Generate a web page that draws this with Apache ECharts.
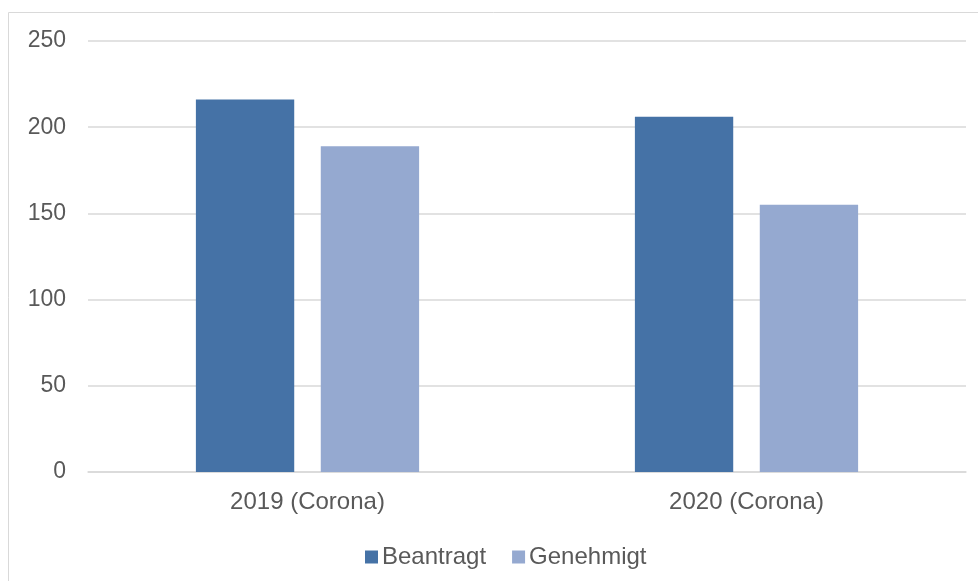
<!DOCTYPE html>
<html>
<head>
<meta charset="utf-8">
<script src="https://cdn.jsdelivr.net/npm/echarts@6/dist/echarts.min.js"></script>
<style>
  html, body { margin: 0; padding: 0; background: #fff; }
  #chart { width: 978px; height: 581px; }
</style>
</head>
<body>
<div id="chart"></div>
<script>
const categories = ["2019 (Corona)", "2020 (Corona)"];
const beantragt = [216, 206];
const genehmigt = [189, 155];
const yTicks = { min: 0, max: 250, interval: 50 };

const textColor = "#595959";
const font = "'Liberation Sans', Arial, sans-serif";

const myChart = echarts.init(document.getElementById("chart"));
const option = {
    animation: false,
    graphic: [{
        type: 'rect',
        shape: { x: 8.5, y: 12.5, width: 1000, height: 600 },
        style: { fill: null, stroke: '#d9d9d9', lineWidth: 1 },
        silent: true
    }],
    grid: {
        left: 88,
        right: 12,
        top: 41,
        bottom: 109
    },
    legend: {
        data: ['Beantragt', 'Genehmigt'],
        left: 360,
        top: 540,
        itemWidth: 13,
        itemHeight: 13,
        itemGap: 26,
        icon: 'rect',
        textStyle: {
            fontFamily: font,
            fontSize: 24,
            color: textColor,
            padding: [0, 0, 0, -1]
        }
    },
    xAxis: {
        type: 'category',
        data: categories,
        axisLine: { lineStyle: { color: '#d9d9d9', width: 1.5 } },
        axisTick: { show: false },
        axisLabel: {
            margin: 18,
            fontFamily: font,
            fontSize: 24,
            color: textColor
        }
    },
    yAxis: {
        type: 'value',
        min: yTicks.min,
        max: yTicks.max,
        interval: yTicks.interval,
        axisLine: { show: false },
        axisTick: { show: false },
        splitLine: { lineStyle: { color: '#d9d9d9', width: 1.5 } },
        axisLabel: {
            margin: 22,
            fontFamily: font,
            fontSize: 23,
            color: textColor
        }
    },
    series: [{
        name: 'Beantragt',
        type: 'bar',
        data: beantragt,
        barWidth: '22.4%',
        barGap: '27%',
        itemStyle: { color: '#4572A6' }
    }, {
        name: 'Genehmigt',
        type: 'bar',
        data: genehmigt,
        barWidth: '22.4%',
        itemStyle: { color: '#95A9D0' }
    }]
};

myChart.setOption(option);
</script>
</body>
</html>
